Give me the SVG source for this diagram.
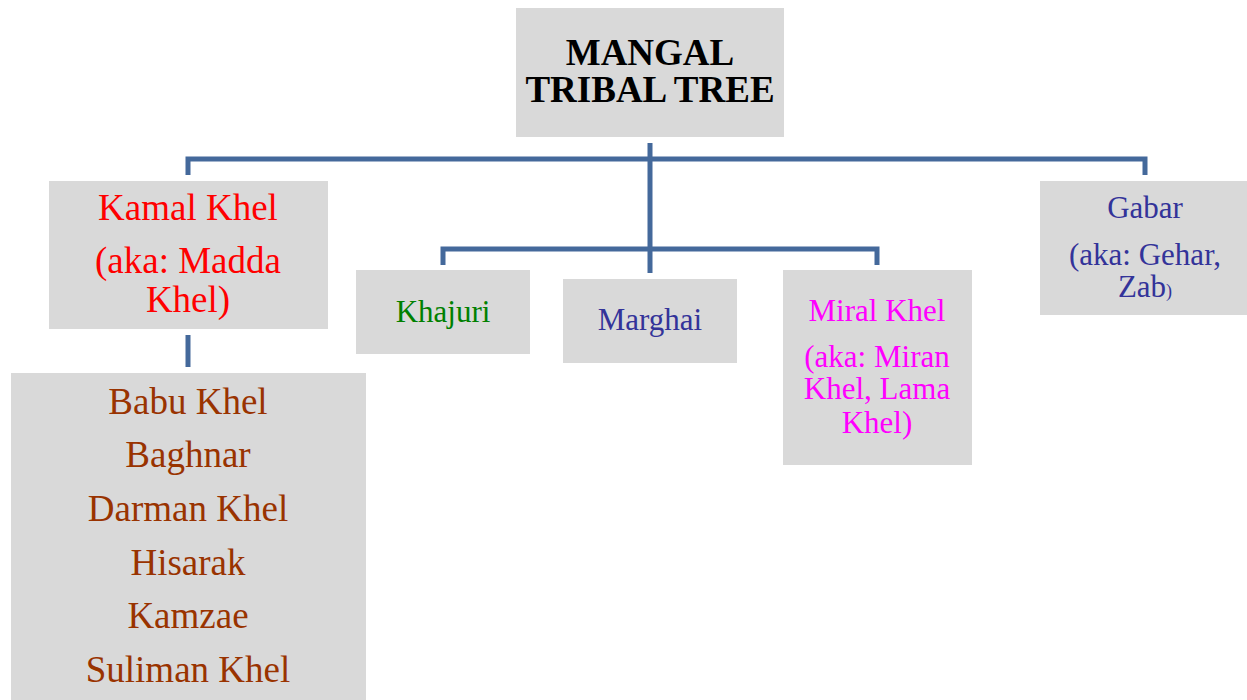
<svg xmlns="http://www.w3.org/2000/svg" width="1247" height="700" viewBox="0 0 1247 700">
<style>
.box{fill:#d9d9d9}
text{font-family:"Liberation Serif","Times New Roman",serif;text-anchor:middle}
.big{font-size:37px}
.sm{font-size:31px}
.conn{stroke:#44699b;stroke-width:5;fill:none}
</style>
<rect width="1247" height="700" fill="#ffffff"/>
<g id="connectors">
<path class="conn" d="M188,175 V159 H1145 V175"/>
<path class="conn" d="M650,143 V273"/>
<path class="conn" d="M443,265 V249 H877 V265"/>
<path class="conn" d="M188,335 V367"/>
</g>
<g id="root">
<rect class="box" x="516" y="8" width="268" height="129"/>
<text class="big" x="650" y="65" font-weight="bold" fill="#000">MANGAL</text>
<text class="big" x="650" y="102" font-weight="bold" fill="#000">TRIBAL TREE</text>
</g>
<g id="kamal">
<rect class="box" x="49" y="181" width="279" height="148"/>
<text class="big" x="188" y="220" fill="#ff0000">Kamal Khel</text>
<text class="big" x="188" y="273" fill="#ff0000">(aka: Madda</text>
<text class="big" x="188" y="312" fill="#ff0000">Khel)</text>
</g>
<g id="kamal-children">
<rect class="box" x="11" y="373" width="355" height="327"/>
<text class="big" x="188" y="414" fill="#993300">Babu Khel</text>
<text class="big" x="188" y="467" fill="#993300">Baghnar</text>
<text class="big" x="188" y="521" fill="#993300">Darman Khel</text>
<text class="big" x="188" y="575" fill="#993300">Hisarak</text>
<text class="big" x="188" y="628" fill="#993300">Kamzae</text>
<text class="big" x="188" y="682" fill="#993300">Suliman Khel</text>
</g>
<g id="khajuri">
<rect class="box" x="356" y="270" width="174" height="84"/>
<text class="sm" x="443" y="322" fill="#008000">Khajuri</text>
</g>
<g id="marghai">
<rect class="box" x="563" y="279" width="174" height="84"/>
<text class="sm" x="650" y="330" fill="#333399">Marghai</text>
</g>
<g id="miral">
<rect class="box" x="783" y="270" width="189" height="195"/>
<text class="sm" x="877" y="321" fill="#ff00ff">Miral Khel</text>
<text class="sm" x="877" y="367" fill="#ff00ff">(aka: Miran</text>
<text class="sm" x="877" y="399" fill="#ff00ff">Khel, Lama</text>
<text class="sm" x="877" y="433" fill="#ff00ff">Khel)</text>
</g>
<g id="gabar">
<rect class="box" x="1040" y="181" width="207" height="134"/>
<text class="sm" x="1145" y="218" fill="#333399">Gabar</text>
<text class="sm" x="1145" y="265" fill="#333399">(aka: Gehar,</text>
<text class="sm" x="1145" y="297" fill="#333399">Zab<tspan font-size="18">)</tspan></text>
</g>
</svg>
